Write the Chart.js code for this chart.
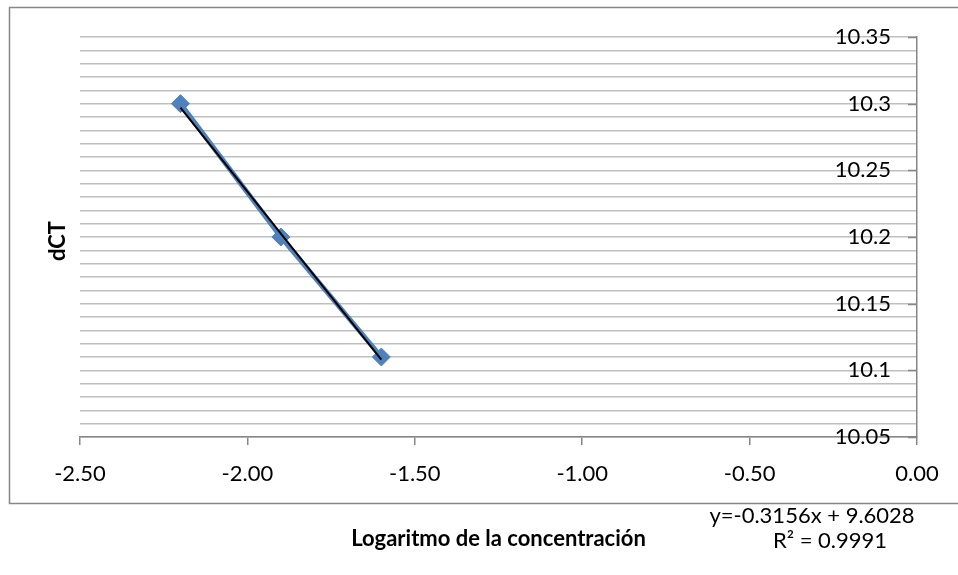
<!DOCTYPE html>
<html>
<head>
<meta charset="utf-8">
<script src="https://cdn.jsdelivr.net/npm/chart.js@4/dist/chart.umd.min.js"></script>
<style>
  html, body { margin: 0; padding: 0; background: #fff; }
  #wrap { position: relative; width: 958px; height: 575px; }
  canvas { position: absolute; left: 0; top: 0; }
</style>
</head>
<body>
<div id="wrap"><canvas id="chart" width="958" height="575"></canvas></div>
<script>
// Data
const logConc = [-2.2, -1.9, -1.6];
const dCT = [10.3, 10.2, 10.11];

// Linear trendline ends (as drawn in the picture)
const trendX = [-2.2, -1.6];
const trendY = [10.297, 10.108];
const trendLabel = ['y=-0.3156x + 9.6028', 'R\u00b2 = 0.9991'];

// Axis ticks
const xTickValues = [-2.5, -2.0, -1.5, -1.0, -0.5, 0];
const xTickLabels = ['-2.50', '-2.00', '-1.50', '-1.00', '-0.50', '0.00'];
const yTickValues = [10.05, 10.1, 10.15, 10.2, 10.25, 10.3, 10.35];
const yTickLabels = ['10.05', '10.1', '10.15', '10.2', '10.25', '10.3', '10.35'];
const yMinorStep = 0.01;

const FONT = 'Lato, "Open Sans", sans-serif';

// Outer frame, y tick marks, axis title and trendline label
const decorations = {
  id: 'decorations',
  beforeDraw(chart) {
    const ctx = chart.ctx;
    ctx.save();
    ctx.strokeStyle = '#868686';
    ctx.lineWidth = 1.5;
    ctx.strokeRect(9.5, 7.5, 950, 496);
    ctx.restore();
  },
  beforeDatasetsDraw(chart) {
    // major tick marks of the y axis point into the plot
    const ctx = chart.ctx;
    const y = chart.scales.y;
    ctx.save();
    ctx.strokeStyle = '#868686';
    ctx.lineWidth = 1.5;
    yTickValues.forEach(v => {
      const py = Math.round(y.getPixelForValue(v)) + 0.5;
      ctx.beginPath();
      ctx.moveTo(y.left - 9, py);
      ctx.lineTo(y.left, py);
      ctx.stroke();
    });
    ctx.restore();
  },
  afterDraw(chart) {
    const ctx = chart.ctx;
    const area = chart.chartArea;
    ctx.save();
    ctx.fillStyle = '#000';
    ctx.font = 'bold 22px ' + FONT;
    ctx.textAlign = 'center';
    ctx.textBaseline = 'middle';
    ctx.translate(58, (area.top + area.bottom) / 2 + 4);
    ctx.rotate(-Math.PI / 2);
    ctx.fillText('dCT', 0, 0);
    ctx.restore();

    ctx.save();
    ctx.fillStyle = '#000';
    ctx.font = '22px ' + FONT;
    ctx.textAlign = 'center';
    ctx.textBaseline = 'middle';
    ctx.fillText(trendLabel[0], 812, 516);
    ctx.fillText(trendLabel[1], 830, 541);
    ctx.restore();
  }
};

new Chart(document.getElementById('chart'), {
  type: 'scatter',
  data: {
    datasets: [
      {
        label: 'Lineal',
        data: trendX.map((x, i) => ({ x: x, y: trendY[i] })),
        showLine: true,
        borderColor: '#000',
        borderWidth: 2,
        pointRadius: 0,
        order: 0
      },
      {
        label: 'dCT',
        data: logConc.map((x, i) => ({ x: x, y: dCT[i] })),
        showLine: true,
        borderColor: '#4F81BD',
        backgroundColor: '#4F81BD',
        borderWidth: 5,
        pointStyle: 'rectRot',
        pointRadius: 9,
        pointBorderWidth: 1,
        order: 1
      }
    ]
  },
  options: {
    responsive: false,
    animation: false,
    layout: { padding: { top: 37, left: 80, right: 0, bottom: 0 } },
    plugins: {
      legend: { display: false },
      tooltip: { enabled: false }
    },
    scales: {
      x: {
        type: 'linear',
        position: 'bottom',
        min: -2.5,
        max: 0,
        afterFit: s => { s.height = 138; },
        afterBuildTicks: s => { s.ticks = xTickValues.map(v => ({ value: v })); },
        ticks: {
          autoSkip: false,
          maxRotation: 0,
          padding: 16,
          color: '#000',
          font: { family: FONT, size: 22 },
          callback: v => {
            const i = xTickValues.findIndex(t => Math.abs(t - v) < 1e-6);
            return i >= 0 ? xTickLabels[i] : '';
          }
        },
        grid: {
          drawOnChartArea: false,
          drawTicks: true,
          tickLength: 8,
          color: '#868686',
          lineWidth: 1.5
        },
        border: { color: '#868686', width: 1.5 },
        title: {
          display: true,
          text: 'Logaritmo de la concentración',
          color: '#000',
          font: { family: FONT, size: 22, weight: 'bold' },
          padding: { top: 0, bottom: 23 }
        }
      },
      y: {
        type: 'linear',
        position: 'right',
        min: 10.05,
        max: 10.35,
        afterFit: s => { s.width = 41; },
        afterBuildTicks: s => {
          const ticks = [];
          const n = Math.round((10.35 - 10.05) / yMinorStep);
          for (let i = 0; i <= n; i++) ticks.push({ value: 10.05 + i * yMinorStep });
          s.ticks = ticks;
        },
        ticks: {
          autoSkip: false,
          mirror: true,
          padding: -26,
          color: '#000',
          font: { family: FONT, size: 22 },
          callback: v => {
            const i = yTickValues.findIndex(t => Math.abs(t - v) < 1e-6);
            return i >= 0 ? yTickLabels[i] : '';
          }
        },
        grid: {
          drawTicks: false,
          color: '#bfbfbf',
          lineWidth: 1.5
        },
        border: { color: '#868686', width: 1.5 }
      }
    }
  },
  plugins: [decorations]
});
</script>
</body>
</html>
